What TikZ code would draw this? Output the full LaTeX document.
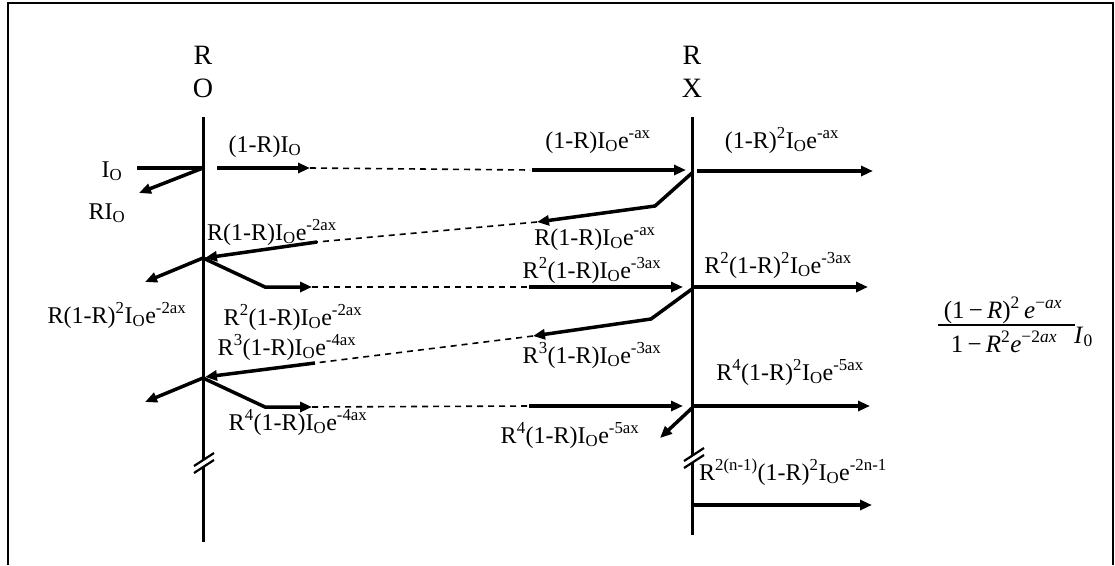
\documentclass[tikz,border=0pt]{standalone}
\usepackage{fontspec}
\setmainfont{Liberation Serif}
\usetikzlibrary{arrows.meta}
\newcommand\IO{I\textsubscript{O}}
\newcommand\sx[1]{\textsuperscript{#1}}
\tikzset{
  vline/.style={line width=3pt},
  ray/.style={line width=3.5pt, -{Triangle[length=12pt,width=10pt]}},
  plainray/.style={line width=3.5pt},
  dray/.style={line width=1.6pt, dash pattern=on 6pt off 5pt},
  lbl/.style={font=\fontsize{24}{28}\selectfont, inner sep=0pt, anchor=base},
  top/.style={font=\fontsize{28}{32}\selectfont, inner sep=0pt},
  fml/.style={font=\fontsize{25}{29}\selectfont, inner sep=0pt, anchor=base},
  brk/.style={line width=2.2pt},
  frame/.style={line width=2pt}
}
\begin{document}
\begin{tikzpicture}[x=1pt,y=-1pt]
\useasboundingbox (0,0) rectangle (1115,565);
% frame
\coordinate (f1) at (8,565); \coordinate (f2) at (8,3);
\coordinate (f3) at (1113,3); \coordinate (f4) at (1113,565);
\draw[frame] (f1) -- (f2) -- (f3) -- (f4);
% vertical lines
\coordinate (Ltop) at (203,117); \coordinate (Lbot) at (203,542);
\coordinate (Rtop) at (692,117); \coordinate (Rbot) at (692,535);
\draw[vline] (Ltop) -- (Lbot);
\draw[vline] (Rtop) -- (Rbot);
% top labels
\node[top] (r1) at (203,55) {R};
\node[top] (o1) at (203,88) {O};
\node[top] (r2) at (692,55) {R};
\node[top] (x2) at (692,88) {X};
% break marks
\coordinate (bl) at (204,462);
\coordinate (br) at (694,457);
\fill[white] ([shift={(-10,5)}]bl) -- ([shift={(10,-8)}]bl) -- ([shift={(10,-2)}]bl) -- ([shift={(-10,11)}]bl) -- cycle;
\draw[brk] ([shift={(-10,4)}]bl) -- ([shift={(10,-9)}]bl);
\draw[brk] ([shift={(-10,11)}]bl) -- ([shift={(10,-2)}]bl);
\fill[white] ([shift={(-10,5)}]br) -- ([shift={(10,-8)}]br) -- ([shift={(10,-2)}]br) -- ([shift={(-10,11)}]br) -- cycle;
\draw[brk] ([shift={(-10,4)}]br) -- ([shift={(10,-9)}]br);
\draw[brk] ([shift={(-10,11)}]br) -- ([shift={(10,-2)}]br);
% row 1
\coordinate (in0) at (137,168);
\coordinate (J1) at (203,168);
\coordinate (ref0) at (139,193);
\draw[plainray] (in0) -- (J1);
\draw[ray] (J1) -- (ref0);
\coordinate (a1s) at (217,168); \coordinate (a1e) at (310,168);
\coordinate (d1e) at (530,170);
\coordinate (b1s) at (532,170); \coordinate (b1e) at (686,170);
\draw[ray] (a1s) -- (a1e);
\draw[dray] (a1e) -- (d1e);
\draw[ray] (b1s) -- (b1e);
\coordinate (o1s) at (697,171); \coordinate (o1e) at (873,171);
\draw[ray] (o1s) -- (o1e);
% reflection 1 at X
\coordinate (K1) at (692,173); \coordinate (k1m) at (655,206); \coordinate (k1e) at (537,222);
\draw[ray] (K1) -- (k1m) -- (k1e);
\coordinate (d2e) at (317,242);
\draw[dray] (k1e) -- (d2e);
\coordinate (J2) at (205,258);
\draw[ray] (d2e) -- (J2);
% junction 2 at O
\coordinate (J2b) at (203,258);
\coordinate (l2e) at (145,282);
\draw[ray] (J2b) -- (l2e);
\coordinate (m2) at (265,287); \coordinate (a2e) at (312,287);
\draw[ray] (J2b) -- (m2) -- (a2e);
\coordinate (d3e) at (529,287); \coordinate (b2e) at (683,287);
\draw[dray] (a2e) -- (d3e);
\draw[ray] (d3e) -- (b2e);
\coordinate (o2s) at (693,287); \coordinate (o2e) at (868,287);
\draw[ray] (o2s) -- (o2e);
% reflection 2 at X
\coordinate (K2) at (692,289); \coordinate (k2m) at (651,319); \coordinate (k2e) at (533,336);
\draw[ray] (K2) -- (k2m) -- (k2e);
\coordinate (d4e) at (315,363);
\draw[dray] (k2e) -- (d4e);
\coordinate (J3) at (205,377);
\draw[ray] (d4e) -- (J3);
% junction 3 at O
\coordinate (J3b) at (203,378);
\coordinate (l3e) at (145,402);
\draw[ray] (J3b) -- (l3e);
\coordinate (m3) at (265,407); \coordinate (a3e) at (312,407);
\draw[ray] (J3b) -- (m3) -- (a3e);
\coordinate (d5e) at (529,406); \coordinate (b3e) at (683,406);
\draw[dray] (a3e) -- (d5e);
\draw[ray] (d5e) -- (b3e);
\coordinate (o3s) at (693,406); \coordinate (o3e) at (870,406);
\draw[ray] (o3s) -- (o3e);
\coordinate (K3) at (692,408); \coordinate (k3e) at (660,438);
\draw[ray] (K3) -- (k3e);
% last output
\coordinate (o4s) at (693,505); \coordinate (o4e) at (872,505);
\draw[ray] (o4s) -- (o4e);
% labels
\node[lbl] (t1) at (112,177) {\IO};
\node[lbl] (t2) at (107,219) {R\IO};
\node[lbl] (t3) at (265,152) {(1-R)\IO};
\node[lbl] (t4) at (598,148) {(1-R)\IO e\sx{-ax}};
\node[lbl] (t5) at (782,148) {(1-R)\sx{2}\IO e\sx{-ax}};
\node[lbl] (t6) at (272,240) {R(1-R)\IO e\sx{-2ax}};
\node[lbl] (t7) at (595,245) {R(1-R)\IO e\sx{-ax}};
\node[lbl] (t8) at (592,278) {R\sx{2}(1-R)\IO e\sx{-3ax}};
\node[lbl] (t9) at (778,273) {R\sx{2}(1-R)\sx{2}\IO e\sx{-3ax}};
\node[lbl] (t10) at (117,323) {R(1-R)\sx{2}\IO e\sx{-2ax}};
\node[lbl] (t11) at (293,325) {R\sx{2}(1-R)\IO e\sx{-2ax}};
\node[lbl] (t12) at (287,355) {R\sx{3}(1-R)\IO e\sx{-4ax}};
\node[lbl] (t13) at (592,363) {R\sx{3}(1-R)\IO e\sx{-3ax}};
\node[lbl] (t14) at (790,380) {R\sx{4}(1-R)\sx{2}\IO e\sx{-5ax}};
\node[lbl] (t15) at (298,430) {R\sx{4}(1-R)\IO e\sx{-4ax}};
\node[lbl] (t16) at (570,443) {R\sx{4}(1-R)\IO e\sx{-5ax}};
\node[lbl] (t17) at (793,480) {R\sx{2(n-1)}(1-R)\sx{2}\IO e\sx{-2n-1}};
% formula
\node[fml] (num) at (1003,318) {(1\,−\,\textit{R})\sx{2}\,\textit{e}\sx{−\textit{ax}}};
\node[fml] (den) at (1004,352) {1\,−\,\textit{R}\sx{2}\textit{e}\sx{−2\textit{ax}}};
\coordinate (barl) at (938,325); \coordinate (barr) at (1075,325);
\draw[line width=1.2pt] (barl) -- (barr);
\node[fml, anchor=base west] (i0) at (1074,343) {\textit{I}\textsubscript{0}};
\end{tikzpicture}
\end{document}
